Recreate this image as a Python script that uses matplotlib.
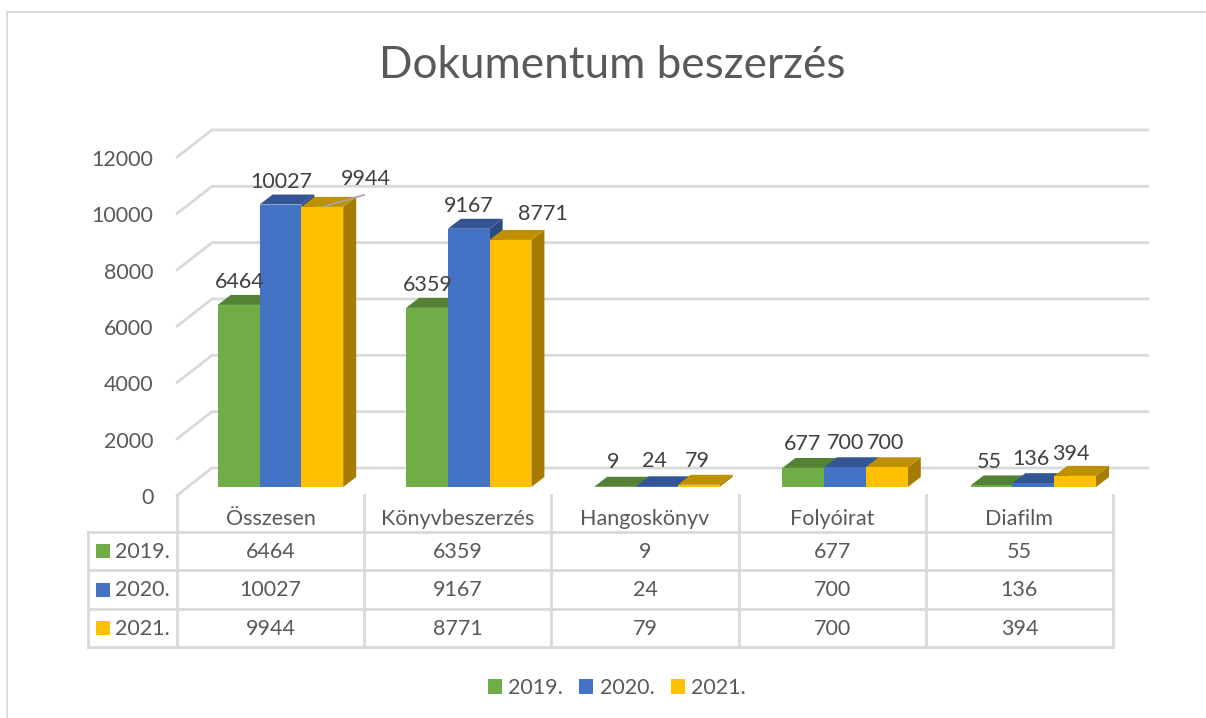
import numpy as np
import matplotlib
matplotlib.use('Agg')
import matplotlib.pyplot as plt
from matplotlib.patches import Patch, Rectangle
from matplotlib.transforms import ScaledTranslation

plt.rcParams['font.family'] = ['Lato', 'DejaVu Sans']

# data
categories = ['Összesen', 'Könyvbeszerzés', 'Hangoskönyv', 'Folyóirat', 'Diafilm']
years = ['2019.', '2020.', '2021.']
v2019 = [6464, 6359, 9, 677, 55]
v2020 = [10027, 9167, 24, 700, 136]
v2021 = [9944, 8771, 79, 700, 394]
series = [v2019, v2020, v2021]
yticks = [0, 2000, 4000, 6000, 8000, 10000, 12000]

colors = ['#70AD47', '#4472C4', '#FFC000']
tops = ['#548235', '#335593', '#BF9000']
sides = ['#4A7A2E', '#2B4A80', '#A67C00']
GREY = '#595959'
DARK = '#404040'
LINE = '#D9D9D9'
FS = 15.5

W, H = 1206, 718
fig = plt.figure(figsize=[W / 100, H / 100], dpi=100, facecolor='white')

# overlay in pixels for frame and table
ov = fig.add_axes([0, 0, 1, 1], zorder=0)
ov.set_xlim(0, W)
ov.set_ylim(H, 0)
ov.axis('off')

# plot axes, pixel rect of the wall
left, right, top, bottom = 177, 1149, 130, 496
base_py = 487
S = 0.02817  # px per unit
PX = 1 / 188.2  # category units per px
PY = 1 / S  # value units per px
ax = fig.add_axes([left / W, 1 - bottom / H, (right - left) / W, (bottom - top) / H], zorder=1)
ax.patch.set_alpha(0)
ax.set_xlim((left - 280.5) * PX, (right - 280.5) * PX)
ax.set_ylim((base_py - bottom) * PY, (base_py - top) * PY)
for s in ax.spines.values():
    s.set_visible(False)
ax.set_xticks([])
ax.set_yticks(yticks)
ax.tick_params(axis='y', length=0, pad=17, labelsize=FS, labelcolor=GREY)
for l in ax.get_yticklabels():
    l.set_transform(l.get_transform() + ScaledTranslation(0, -9 / 100, fig.dpi_scale_trans))

# back wall gridlines with the slanted side part
x0, x1 = ax.get_xlim()
for v in yticks:
    yb = v + 19 * PY
    ax.plot([x0 - 1 * PX, x0 + 35 * PX, x1], [yb - 28 * PY, yb, yb], color=LINE, lw=2, zorder=1,
            solid_joinstyle='miter', solid_capstyle='butt', clip_on=False)

# 3d bars
x = np.arange(len(categories))
bw = 41.8 * PX
dx, dy = 13 * PX, 10 * PY
for i, vals in enumerate(series):
    xs = x + (i - 1) * bw
    z = 3 + i * 3
    for xc, v in zip(xs, vals):
        l, r = xc - bw / 2, xc + bw / 2
        ax.fill([r, r + dx, r + dx, r], [0, dy, v + dy, v], color=sides[i], lw=0, zorder=z)
        ax.fill([l, r, r + dx, l + dx], [v, v, v + dy, v + dy], color=tops[i], lw=0, zorder=z + 1)
    ax.bar(xs, vals, width=bw, color=colors[i], linewidth=0, zorder=z + 2)

# data labels, offset from bar front top in pixels
nudges = [
    [(1, 23), (1, 23), (44, 28)],
    [(1, 23), (0, 23), (32, 26)],
    [(-2, 25), (-2, 25), (-1, 24)],
    [(-1, 24), (0, 24), (-1, 24)],
    [(-2, 23), (-2, 24), (-4, 22)],
]
for c in range(len(categories)):
    for i, vals in enumerate(series):
        ox, oy = nudges[c][i]
        ax.annotate(str(vals[c]), xy=(x[c] + (i - 1) * bw, vals[c]), xytext=(ox, oy),
                    textcoords='offset pixels', ha='center', va='center',
                    fontsize=FS, color=DARK, zorder=20)
# leader line of the 9944 label
ax.annotate('', xy=(x[0] + bw, v2021[0]), xytext=(42, 12), textcoords='offset pixels',
            arrowprops=dict(arrowstyle='-', color='#A6A6A6', lw=1.2, shrinkA=0, shrinkB=0), zorder=20)

# chart frame
ov.plot([7, 7, W], [H, 12, 12], color=LINE, lw=1.3)

# data table
col_x = 177 + 187.2 * np.arange(len(categories) + 1)
row_y = [532, 570, 609, 647]
for cx in col_x:
    ov.plot([cx, cx], [495, 647], color=LINE, lw=2)
for ry in row_y:
    ov.plot([88, col_x[-1]], [ry, ry], color=LINE, lw=2)
ov.plot([88, 88], [532, 647], color=LINE, lw=2)
centers = (col_x[:-1] + col_x[1:]) / 2
for c, name in enumerate(categories):
    ov.text(centers[c], 519, name, ha='center', va='center', fontsize=FS, color=GREY)
for i, vals in enumerate(series):
    ry = (row_y[i] + row_y[i + 1]) / 2
    ov.add_patch(Rectangle((96, ry - 7), 14, 14, color=colors[i], lw=0))
    ov.text(115, ry + 1, years[i], ha='left', va='center', fontsize=FS, color=GREY)
    for c, v in enumerate(vals):
        ov.text(centers[c], ry + 1, str(v), ha='center', va='center', fontsize=FS, color=GREY)

# legend
handles = [Patch(color=c, lw=0) for c in colors]
ov.legend(handles, years, loc='center', bbox_to_anchor=(617 / W, 1 - 688 / H), ncol=3, frameon=False,
          fontsize=FS, labelcolor=GREY, handlelength=0.65, handleheight=0.65, handletextpad=0.3,
          columnspacing=0.75, borderaxespad=0, borderpad=0)

ov.text(612, 66, 'Dokumentum beszerzés', ha='center', va='center', fontsize=31.7, color=GREY)

fig.savefig('out.png', dpi=100)
